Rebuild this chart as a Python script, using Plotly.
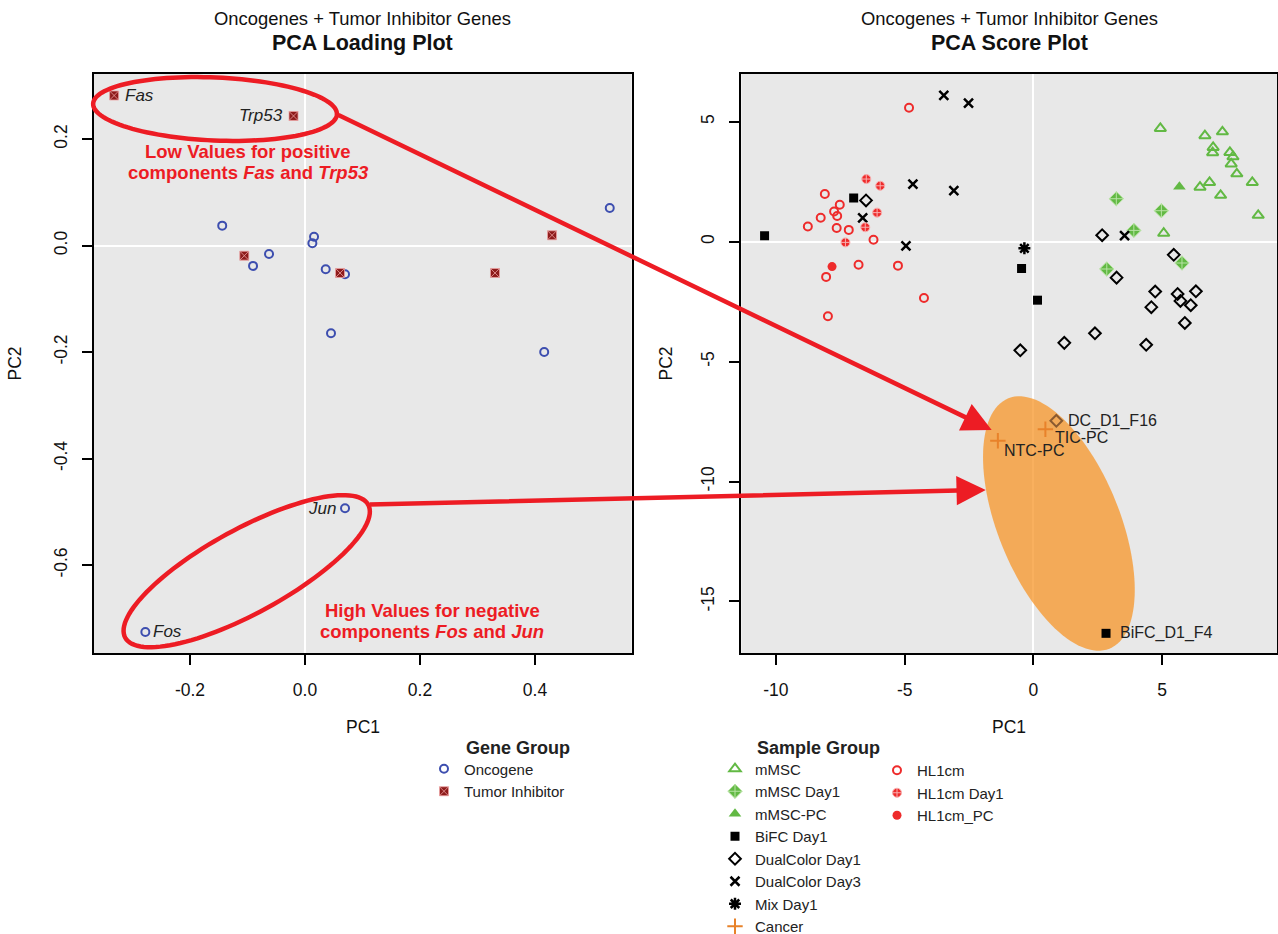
import numpy as np
import plotly.graph_objects as go

# ---------------- data: PCA loading plot ----------------
onco_pc1 = [-0.144, -0.0626, -0.0904, 0.0157, 0.0128, 0.036, 0.0696, 0.0452, 0.416, 0.530, 0.0696, -0.2777]
onco_pc2 = [0.0376, -0.0156, -0.038, 0.0169, 0.0045, -0.0444, -0.0538, -0.1645, -0.1997, 0.0707, -0.493, -0.7255]
onco_label = ["", "", "", "", "", "", "", "", "", "", "Jun", "Fos"]
tumor_pc1 = [-0.332, -0.020, -0.1056, 0.0609, 0.3304, 0.4296]
tumor_pc2 = [0.282, 0.2436, -0.0188, -0.0513, -0.0513, 0.0195]
tumor_label = ["Fas", "Trp53", "", "", "", ""]

# ---------------- data: PCA score plot ----------------
mmsc_pc1 = [4.93, 6.66, 7.34, 6.98, 6.96, 7.63, 7.75, 7.68, 7.90, 8.50, 6.84, 6.47, 7.27, 8.73, 5.06]
mmsc_pc2 = [4.72, 4.42, 4.58, 3.93, 3.71, 3.72, 3.54, 3.24, 2.83, 2.47, 2.47, 2.27, 1.93, 1.10, 0.35]
mmsc_d1_pc1 = [3.22, 4.97, 3.90, 2.85, 5.77]
mmsc_d1_pc2 = [1.79, 1.29, 0.47, -1.14, -0.89]
mmsc_pc_pc1 = [5.67]
mmsc_pc_pc2 = [2.29]
bifc_pc1 = [-10.44, -6.98, -0.46, 0.16, 2.82]
bifc_pc2 = [0.25, 1.82, -1.12, -2.44, -16.33]
bifc_label = ["", "", "", "", "BiFC_D1_F4"]
dc1_pc1 = [-6.50, 2.67, 5.45, 3.23, 4.73, 5.60, 6.31, 5.71, 6.11, 4.58, 5.88, 2.39, 1.20, 4.38, -0.51, 0.89]
dc1_pc2 = [1.72, 0.27, -0.55, -1.50, -2.08, -2.18, -2.07, -2.47, -2.65, -2.73, -3.39, -3.82, -4.22, -4.30, -4.53, -7.47]
dc1_label = [""] * 15 + ["DC_D1_F16"]
dc3_pc1 = [-3.48, -2.52, -4.68, -3.09, -6.63, -4.95, 3.54]
dc3_pc2 = [6.10, 5.78, 2.40, 2.13, 0.99, -0.18, 0.25]
mix_pc1 = [-0.35]
mix_pc2 = [-0.28]
cancer_pc1 = [0.465, -1.38]
cancer_pc2 = [-7.82, -8.30]
cancer_label = ["TIC-PC", "NTC-PC"]
hl_pc1 = [-4.83, -8.10, -7.52, -7.74, -7.62, -8.26, -8.76, -7.64, -7.17, -6.21, -6.79, -5.26, -8.05, -4.25, -7.98]
hl_pc2 = [5.58, 1.99, 1.54, 1.26, 1.07, 1.00, 0.63, 0.57, 0.49, 0.08, -0.96, -1.00, -1.47, -2.35, -3.11]
hl_d1_pc1 = [-6.49, -5.95, -6.07, -6.53, -7.30]
hl_d1_pc2 = [2.61, 2.33, 1.21, 0.60, -0.03]
hl_pc_pc1 = [-7.82]
hl_pc_pc2 = [-1.04]

# tick labels
load_xticks = [-0.2, 0.0, 0.2, 0.4]
load_xtext = ["-0.2", "0.0", "0.2", "0.4"]
load_yticks = [-0.6, -0.4, -0.2, 0.0, 0.2]
load_ytext = ["-0.6", "-0.4", "-0.2", "0.0", "0.2"]
score_xticks = [-10, -5, 0, 5]
score_xtext = ["-10", "-5", "0", "5"]
score_yticks = [-15, -10, -5, 0, 5]
score_ytext = ["-15", "-10", "-5", "0", "5"]

# ---------------- geometry / style ----------------
W, H = 1278, 934
L_DOM_X = [94 / W, 631.6 / W]
R_DOM_X = [741.4 / W, 1277 / W]
DOM_Y = [1 - 653 / H, 1 - 74 / H]
L_XR = [-0.367, 0.568]
L_YR = [-0.765, 0.3224]
R_XR = [-11.34, 9.46]
R_YR = [-17.15, 6.99]

FONT = "Liberation Sans, Arial, Helvetica, sans-serif"
BLUE = "#3D4EAF"
DRED = "#8E1B1B"
GREEN = "#62B944"
RED = "#EE2B2B"
ORANGE = "#E8822A"
HRED = "#ED1C24"


def to_px(x, y, dom_x, xr, yr):
    px = W * (dom_x[0] + (x - xr[0]) / (xr[1] - xr[0]) * (dom_x[1] - dom_x[0]))
    pyu = H * (DOM_Y[0] + (y - yr[0]) / (yr[1] - yr[0]) * (DOM_Y[1] - DOM_Y[0]))
    return px, H - pyu


def from_px(px, py, dom_x, xr, yr):
    fx = (px / W - dom_x[0]) / (dom_x[1] - dom_x[0])
    fy = ((1 - py / H) - DOM_Y[0]) / (DOM_Y[1] - DOM_Y[0])
    return xr[0] + fx * (xr[1] - xr[0]), yr[0] + fy * (yr[1] - yr[0])


def ellipse_pts(cx_px, cy_px, a, b, ang_deg, n=120):
    t = np.linspace(0, 2 * np.pi, n, endpoint=False)
    phi = np.radians(ang_deg)
    xs = cx_px + a * np.cos(t) * np.cos(phi) - b * np.sin(t) * np.sin(phi)
    ys = cy_px - (a * np.cos(t) * np.sin(phi) + b * np.sin(t) * np.cos(phi))
    end = (cx_px + a * np.cos(phi), cy_px - a * np.sin(phi))
    return xs, ys, end


def paper_path(xs, ys):
    return "M" + " L".join(f"{x / W:.5f},{1 - y / H:.5f}" for x, y in zip(xs, ys)) + " Z"


fig = go.Figure()

# loading plot traces
fig.add_trace(go.Scatter(x=onco_pc1, y=onco_pc2, mode="markers", name="Oncogene",
                         marker=dict(symbol="circle-open", size=8, color=BLUE, line=dict(width=2)),
                         xaxis="x", yaxis="y", legend="legend"))
fig.add_trace(go.Scatter(x=tumor_pc1, y=tumor_pc2, mode="markers", name="Tumor Inhibitor",
                         marker=dict(symbol="square-x", size=9, color=DRED,
                                     line=dict(width=1, color="rgba(235,160,160,0.8)")),
                         xaxis="x", yaxis="y", legend="legend"))

# labelled DualColor sample sits inside the highlighted area and is shown tinted
dc1_colors = ["#8A5A30" if lab else "black" for lab in dc1_label]

groups = [
    ("mMSC", mmsc_pc1, mmsc_pc2, dict(symbol="triangle-up-open", size=10, color=GREEN, line=dict(width=2)), "legend2"),
    ("mMSC Day1", mmsc_d1_pc1, mmsc_d1_pc2, dict(symbol="diamond-cross", size=11, color=GREEN, line=dict(width=1, color="#B8E3A4")), "legend2"),
    ("mMSC-PC", mmsc_pc_pc1, mmsc_pc_pc2, dict(symbol="triangle-up", size=11, color=GREEN, line=dict(width=0)), "legend2"),
    ("BiFC Day1", bifc_pc1, bifc_pc2, dict(symbol="square", size=9, color="black", line=dict(width=0)), "legend2"),
    ("DualColor Day1", dc1_pc1, dc1_pc2, dict(symbol="diamond-open", size=9, color=dc1_colors, line=dict(width=2)), "legend2"),
    ("DualColor Day3", dc3_pc1, dc3_pc2, dict(symbol="x-thin-open", size=9, color="black", line=dict(width=2.5)), "legend2"),
    ("Mix Day1", mix_pc1, mix_pc2, dict(symbol="asterisk-open", size=10, color="black", line=dict(width=2.5)), "legend2"),
    ("Cancer", cancer_pc1, cancer_pc2, dict(symbol="cross-thin-open", size=11, color=ORANGE, line=dict(width=2)), "legend2"),
    ("HL1cm", hl_pc1, hl_pc2, dict(symbol="circle-open", size=8, color=RED, line=dict(width=2)), "legend3"),
    ("HL1cm Day1", hl_d1_pc1, hl_d1_pc2, dict(symbol="circle-cross", size=9, color=RED, line=dict(width=1, color="#F8B0B0")), "legend3"),
    ("HL1cm_PC", hl_pc_pc1, hl_pc_pc2, dict(symbol="circle", size=9, color=RED, line=dict(width=0)), "legend3"),
]
for name, xs, ys, mk, lg in groups:
    fig.add_trace(go.Scatter(x=xs, y=ys, mode="markers", name=name, marker=mk,
                             xaxis="x2", yaxis="y2", legend=lg))

annotations = []
TXT = "#111"

# titles
for dom, ttl in ((L_DOM_X, "PCA Loading Plot"), (R_DOM_X, "PCA Score Plot")):
    cx = (dom[0] + dom[1]) / 2
    annotations.append(dict(x=cx, y=1 - 18 / H, xref="paper", yref="paper", xanchor="center", yanchor="middle",
                            text="Oncogenes + Tumor Inhibitor Genes", showarrow=False,
                            font=dict(family=FONT, size=18.4, color=TXT)))
    annotations.append(dict(x=cx, y=1 - 43 / H, xref="paper", yref="paper", xanchor="center", yanchor="middle",
                            text="<b>%s</b>" % ttl, showarrow=False, font=dict(family=FONT, size=21.5, color=TXT)))
    annotations.append(dict(x=cx, y=1 - 727 / H, xref="paper", yref="paper", xanchor="center", yanchor="middle",
                            text="PC1", showarrow=False, font=dict(family=FONT, size=17.5, color=TXT)))
for dom, xpx in ((L_DOM_X, 15), (R_DOM_X, 666)):
    annotations.append(dict(x=xpx / W, y=(DOM_Y[0] + DOM_Y[1]) / 2, xref="paper", yref="paper",
                            xanchor="center", yanchor="middle", text="PC2", textangle=-90, showarrow=False,
                            font=dict(family=FONT, size=17.5, color=TXT)))

# legend titles
annotations.append(dict(x=463.5 / W, y=1 - 747.5 / H, xref="paper", yref="paper", xanchor="left", yanchor="middle",
                        text="<b>Gene Group</b>", showarrow=False, font=dict(family=FONT, size=18, color="#222")))
annotations.append(dict(x=755 / W, y=1 - 747.5 / H, xref="paper", yref="paper", xanchor="left", yanchor="middle",
                        text="<b>Sample Group</b>", showarrow=False, font=dict(family=FONT, size=18, color="#222")))

# gene labels (left plot)
gene_label_side = {"Fas": ("left", 9), "Trp53": ("right", -9), "Jun": ("right", -7), "Fos": ("left", 6)}
for xs, ys, labs in ((onco_pc1, onco_pc2, onco_label), (tumor_pc1, tumor_pc2, tumor_label)):
    for x, y, lab in zip(xs, ys, labs):
        if lab:
            anc, sh = gene_label_side[lab]
            annotations.append(dict(x=x, y=y, xref="x", yref="y", xanchor=anc, yanchor="middle", xshift=sh,
                                    text="<i>%s</i>" % lab, showarrow=False,
                                    font=dict(family=FONT, size=17, color="#222")))

# sample labels (right plot)
sample_label_shift = {"DC_D1_F16": (10, 0), "TIC-PC": (8, -8), "NTC-PC": (4, -10), "BiFC_D1_F4": (12, 0)}
for xs, ys, labs in ((dc1_pc1, dc1_pc2, dc1_label), (cancer_pc1, cancer_pc2, cancer_label),
                     (bifc_pc1, bifc_pc2, bifc_label)):
    for x, y, lab in zip(xs, ys, labs):
        if lab:
            dx, dy = sample_label_shift[lab]
            annotations.append(dict(x=x, y=y, xref="x2", yref="y2", xanchor="left", yanchor="middle",
                                    xshift=dx, yshift=dy, text=lab, showarrow=False,
                                    font=dict(family=FONT, size=16, color="#222")))

# red callout text (two lines each, tight line spacing)
callouts = [
    ((-0.099, 0.157), ["Low Values for positive", "components <i>Fas</i> and <i>Trp53</i>"]),
    ((0.221, -0.705), ["High Values for negative", "components <i>Fos</i> and <i>Jun</i>"]),
]
for (cx, cy), lines in callouts:
    for k, line in enumerate(lines):
        annotations.append(dict(x=cx, y=cy, xref="x", yref="y", xanchor="center", yanchor="middle",
                                yshift=10.9 - 21.8 * k, showarrow=False, text="<b>%s</b>" % line,
                                font=dict(family=FONT, size=18.5, color=HRED)))

# ellipses
shapes = []
c1 = to_px(-0.1565, 0.2567, L_DOM_X, L_XR, L_YR)
x1s, y1s, end1 = ellipse_pts(c1[0], c1[1], 122, 31.5, -2.5)
c2 = to_px(-0.1014, -0.6113, L_DOM_X, L_XR, L_YR)
x2s, y2s, end2 = ellipse_pts(c2[0], c2[1], 138.5, 42, 28.7)
c3 = to_px(0.99, -11.75, R_DOM_X, R_XR, R_YR)
x3s, y3s, _ = ellipse_pts(c3[0], c3[1], 135, 61, -68)
d3 = [from_px(px, py, R_DOM_X, R_XR, R_YR) for px, py in zip(x3s, y3s)]
p3 = "M" + " L".join(f"{dx:.4f},{dy:.4f}" for dx, dy in d3) + " Z"
shapes.append(dict(type="path", path=p3, xref="x2", yref="y2", layer="between",
                   fillcolor="rgba(247,150,40,0.75)", line=dict(width=0)))
for xs, ys in ((x1s, y1s), (x2s, y2s)):
    shapes.append(dict(type="path", path=paper_path(xs, ys), xref="paper", yref="paper", layer="above",
                       fillcolor="rgba(0,0,0,0)", line=dict(color=HRED, width=4.5)))

# arrows
for tip, tail in (((-1.62, -7.85), end1), ((-1.85, -10.35), end2)):
    tpx = to_px(tip[0], tip[1], R_DOM_X, R_XR, R_YR)
    annotations.append(dict(x=tip[0], y=tip[1], xref="x2", yref="y2", axref="pixel", ayref="pixel",
                            ax=tail[0] - tpx[0], ay=tail[1] - tpx[1], text="", showarrow=True,
                            arrowhead=2, arrowsize=1.3, arrowwidth=4.5, arrowcolor=HRED, standoff=0))

axis_common = dict(showgrid=False, zeroline=True, zerolinecolor="white", zerolinewidth=2,
                   showline=True, linecolor="black", linewidth=2, mirror=True,
                   ticks="outside", ticklen=10, tickwidth=2, tickcolor="black",
                   tickfont=dict(family=FONT, size=17.5, color=TXT))

leg_font = dict(family=FONT, size=15, color="#222")
fig.update_layout(
    width=W, height=H, margin=dict(l=0, r=0, t=0, b=0, autoexpand=False),
    paper_bgcolor="white", plot_bgcolor="#E8E8E8",
    font=dict(family=FONT, color="#222"),
    xaxis=dict(domain=L_DOM_X, range=L_XR, anchor="y", tickmode="array", tickvals=load_xticks,
               ticktext=load_xtext, ticklabelstandoff=10, **axis_common),
    yaxis=dict(domain=DOM_Y, range=L_YR, anchor="x", tickmode="array", tickvals=load_yticks,
               ticktext=load_ytext, tickangle=-90, ticklabelstandoff=8, **axis_common),
    xaxis2=dict(domain=R_DOM_X, range=R_XR, anchor="y2", tickmode="array", tickvals=score_xticks,
                ticktext=score_xtext, ticklabelstandoff=10, **axis_common),
    yaxis2=dict(domain=DOM_Y, range=R_YR, anchor="x2", tickmode="array", tickvals=score_yticks,
                ticktext=score_ytext, tickangle=-90, ticklabelstandoff=8, **axis_common),
    legend=dict(x=424 / W, y=1 - 752.5 / H, xanchor="left", yanchor="top", font=leg_font,
                bgcolor="rgba(0,0,0,0)"),
    legend2=dict(x=715 / W, y=1 - 752.5 / H, xanchor="left", yanchor="top", font=leg_font,
                 bgcolor="rgba(0,0,0,0)"),
    legend3=dict(x=877 / W, y=1 - 754 / H, xanchor="left", yanchor="top", font=leg_font,
                 bgcolor="rgba(0,0,0,0)"),
    annotations=annotations,
    shapes=shapes,
    showlegend=True,
)

fig.write_html("out.html", config={"displayModeBar": False},
               post_script="document.body.style.margin='0';document.body.style.overflow='hidden';")
